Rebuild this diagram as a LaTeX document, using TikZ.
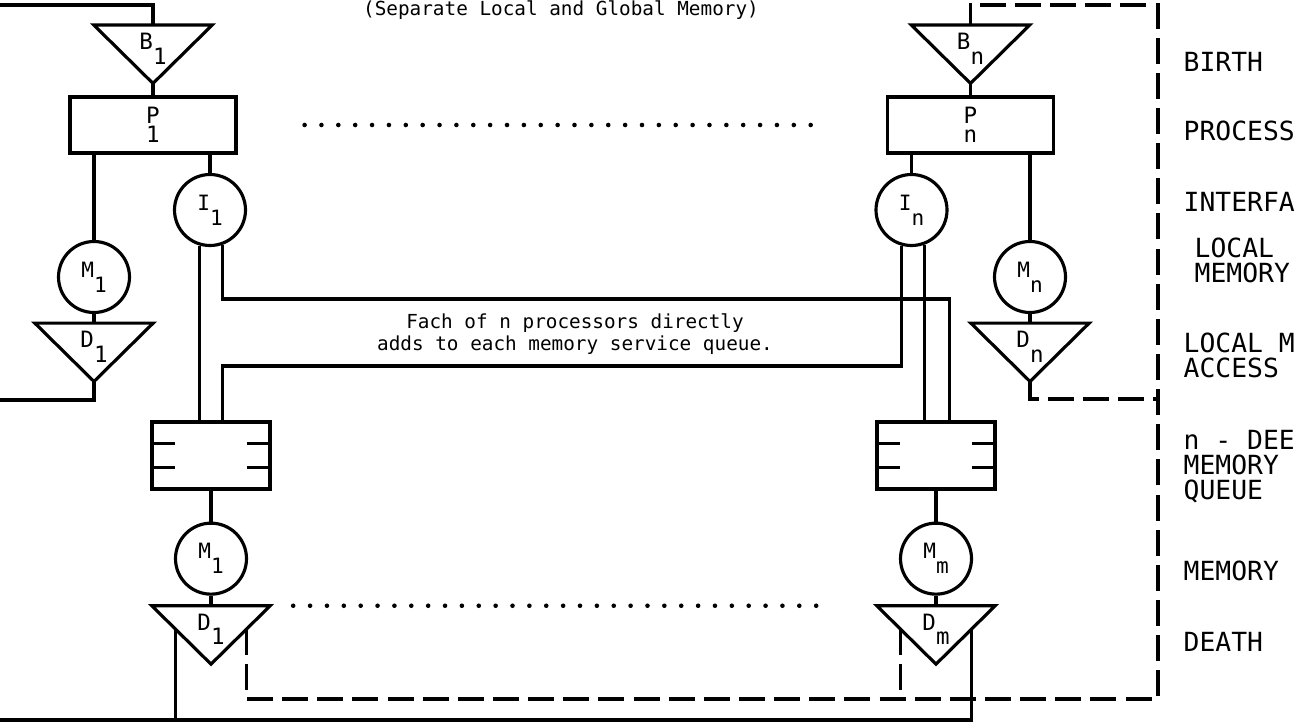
\documentclass[tikz,border=0pt]{standalone}
\usepackage{fontspec}
\usepackage{tikz}
\usetikzlibrary{positioning,calc}
\newfontfamily\lpfont{DejaVu Sans Mono}
\newcommand{\sub}[2]{#1\raisebox{-4.2pt}{#2}}

\begin{document}
\begin{tikzpicture}[
			ln/.style={line width=0.9pt},
			back/.style={ln,dash pattern=on 7.4pt off 2.6pt},
			dots/.style={line width=1.3pt,line cap=round,dash pattern=on 0pt off 4.8pt},
			tri/.style={minimum width=1.17cm,minimum height=0.57cm,inner sep=0pt,text height=4.7pt,text depth=7.4pt,font=\lpfont\fontsize{6.4}{5.1}\selectfont},
			proc/.style={draw,ln,minimum width=1.66cm,minimum height=0.56cm,inner sep=0pt,align=center,font=\lpfont\fontsize{6.4}{5.3}\selectfont},
			srv/.style={draw,ln,circle,minimum size=0.71cm,inner sep=0pt,font=\lpfont\fontsize{6}{6}\selectfont},
			queue/.style={draw,ln,minimum width=1.18cm,minimum height=0.67cm,inner sep=0pt},
			layer/.style={anchor=west,inner sep=0pt,align=left,font=\lpfont\fontsize{7.5}{7.1}\selectfont},
			note/.style={inner sep=0pt,align=center,font=\lpfont\fontsize{5.5}{4.6}\selectfont}
			]
			\useasboundingbox (0,0) rectangle (12.99,-7.22);
			% processor 1 with local memory
			\node[proc] (p1) at (1.53,-1.25) {P\\1};
			\node[tri] (b1) [above=0.12cm of p1] {\sub{B}{1}};
			\node[srv] (i1) at (2.10,-2.10) {\sub{I}{1}};
			\node[srv] (lm1) at (0.94,-2.77) {\sub{M}{1}};
			\node[tri] (ld1) [below=0.09cm of lm1] {\sub{D}{1}};
			% processor n with local memory
			\node[proc] (pN) at (9.705,-1.25) {P\\n};
			\node[tri] (bN) [above=0.12cm of pN] {\sub{B}{n}};
			\node[srv] (iN) at (9.115,-2.10) {\sub{I}{n}};
			\node[srv] (lmN) at (10.30,-2.77) {\sub{M}{n}};
			\node[tri] (ldN) [below=0.09cm of lmN] {\sub{D}{n}};
			% global memories
			\node[queue] (q1) at (2.11,-4.555) {};
			\node[srv] (gm1) [below=0.31cm of q1] {\sub{M}{1}};
			\node[tri] (gd1) [below=0.10cm of gm1] {\sub{D}{1}};
			\node[queue] (qM) at (9.36,-4.555) {};
			\node[srv] (gmM) [below=0.31cm of qM] {\sub{M}{m}};
			\node[tri] (gdM) [below=0.10cm of gmM] {\sub{D}{m}};
			\foreach \t in {b1,bN,ld1,ldN,gd1,gdM}
				\draw[ln] (\t.north west) -- (\t.north east) -- (\t.south) -- cycle;
			\foreach \q in {q1,qM}
				\foreach \f in {0.333,0.667} {
					\draw[ln] ($(\q.north west)!\f!(\q.south west)$) -- ++(0.25,0);
					\draw[ln] ($(\q.north east)!\f!(\q.south east)$) -- ++(-0.25,0);
				}
			% texts
			\node[note] (title) [anchor=base] at (5.61,-0.16) {(Separate Local and Global Memory)};
			\node[note] (msg) at (5.75,-3.34) {Fach of n processors directly\\adds to each memory service queue.};
			\node[layer] (lbirth) at (11.83,-0.62) {BIRTH};
			\node[layer] (lproc) at (11.83,-1.31) {PROCESS};
			\node[layer] (liface) at (11.83,-2.02) {INTERFA};
			\node[layer] (llocal) at (11.94,-2.60) {LOCAL\\MEMORY};
			\node[layer] (laccess) at (11.83,-3.55) {LOCAL M\\ACCESS};
			\node[layer] (lqueue) at (11.83,-4.67) {n - DEE\\MEMORY\\QUEUE};
			\node[layer] (lmem) at (11.83,-5.71) {MEMORY};
			\node[layer] (ldeath) at (11.83,-6.42) {DEATH};
			% free ends and bus levels
			\coordinate (inT) at (0,-0.05);
			\coordinate (inM) at (0,-4.00);
			\coordinate (inB) at (0,-7.20);
			\coordinate (retT) at (11.58,-0.05);
			\coordinate (retM) at (11.58,-3.99);
			\coordinate (retB) at (11.58,-6.99);
			\coordinate (busA) at (0,-2.99);
			\coordinate (busB) at (0,-3.66);
			\coordinate (gd1l) at ($(gd1.north west)!.4!(gd1.south)$);
			\coordinate (gd1r) at ($(gd1.north east)!.4!(gd1.south)$);
			\coordinate (gdMl) at ($(gdM.north west)!.4!(gdM.south)$);
			\coordinate (gdMr) at ($(gdM.north east)!.4!(gdM.south)$);
			% processor links
			\draw[ln] (inT) -| (b1.north);
			\draw[ln] (b1.south) -- (b1.south |- p1.north);
			\draw[ln] (lm1.north |- p1.south) -- (lm1.north);
			\draw[ln] (i1.north |- p1.south) -- (i1.north);
			\draw[ln] (lm1.south) -- (ld1.north);
			\draw[ln] (ld1.south) |- (inM);
			\draw[ln] (bN.south) -- (bN.south |- pN.north);
			\draw[ln] (iN.north |- pN.south) -- (iN.north);
			\draw[ln] (lmN.north |- pN.south) -- (lmN.north);
			\draw[ln] (lmN.south) -- (ldN.north);
			% interface to queues
			\draw[ln] (i1.-106) -- (i1.-106 |- q1.north);
			\draw[ln] (i1.-70) -- (i1.-70 |- busA) -| ([xshift=-0.47cm]qM.north east);
			\draw[ln] (iN.-69) -- (iN.-69 |- qM.north);
			\draw[ln] (iN.-106) -- (iN.-106 |- busB) -| (i1.-70 |- q1.north);
			\draw[ln] (q1.south) -- (gm1.north);
			\draw[ln] (gm1.south) -- (gd1.north);
			\draw[ln] (qM.south) -- (gmM.north);
			\draw[ln] (gmM.south) -- (gdM.north);
			% departures
			\draw[ln] (gd1l) -- (gd1l |- inB);
			\draw[ln] (gdMr) |- (inB);
			\draw[back] (gd1r) |- (retB) -- (retT) -| (bN.north);
			\draw[back] (gdMl) -- (gdMl |- retB);
			\draw[back] (ldN.south) |- (retM);
			% more processors and memories
			\draw[dots,shorten <=0.67cm,shorten >=0.65cm] (p1) -- (pN);
			\draw[dots,shorten <=0.23cm,shorten >=0.60cm] (gd1.north east) -- (gdM.north west);
		\end{tikzpicture}
\end{document}
